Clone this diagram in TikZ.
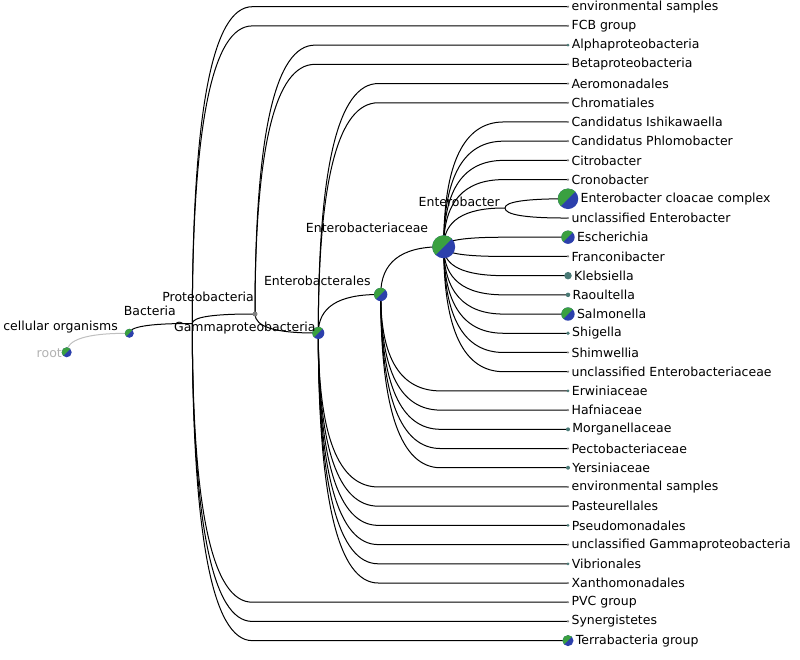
\documentclass[tikz,border=0pt]{standalone}
\usepackage{fontspec}
\setmainfont{DejaVu Sans}
\usetikzlibrary{calc, backgrounds}

\definecolor{piegreen}{RGB}{58,160,64}
\definecolor{pieblue}{RGB}{44,64,172}
\definecolor{smalldot}{RGB}{74,122,118}
\definecolor{tipgray}{RGB}{130,130,130}

\tikzstyle{pie} = [
    circle,
    inner sep=0pt,
    fill=pieblue,
    path picture={\fill[piegreen] (path picture bounding box.north east)
        -- (path picture bounding box.south west)
        -- (path picture bounding box.north west) -- cycle;}
]
\tikzstyle{dot} = [circle, inner sep=0pt, fill=smalldot]
\tikzstyle{tip} = [circle, inner sep=0pt, minimum size=2.4pt, fill=tipgray]
\tikzstyle{hidden} = [circle, inner sep=0pt, minimum size=0pt]
\tikzstyle{leaftext} = [inner sep=0pt, label distance=2pt, text=black]
\tikzstyle{innertext} = [inner sep=0pt, anchor=base east, text=black]
\tikzstyle{branch} = [
    line width=1pt,
    to path={let \p1=(\tikztostart), \p2=(\tikztotarget) in
        (\tikztostart.center)
        .. controls (\x1,{\y1+2/3*(\y2-\y1)}) and ({\x1+20pt},\y2)
        .. ({\x1+60pt},\y2) -- (\tikztotarget.center)}
]

\begin{document}
\begin{tikzpicture}[x=1pt, y=-1pt, node distance=19.21pt,
    font=\fontsize{12.5}{15}\selectfont]

\useasboundingbox (0,0) rectangle (800,659);

% inner nodes
\node (root) [pie, minimum size=10pt] at (66.7,352.3) {};
\node (cellorg) [pie, minimum size=9pt] at (129.3,333.3) {};
\node (bact) [hidden] at (192.3,323.5) {};
\node (proteo) [circle, inner sep=0pt, minimum size=5pt, fill=gray] at (255,314) {};
\node (gamma) [pie, minimum size=12pt] at (318.3,333) {};
\node (entbales) [pie, minimum size=13.3pt] at (380.7,294.5) {};
\node (entceae) [pie, minimum size=23pt] at (443.7,246.8) {};
\node (entbacter) [hidden] at (505,208) {};

\node (rootlbl) [innertext, text=black!30] at ([shift={(-4.7,4.7)}]root.center) {root};
\node (cellorglbl) [innertext] at ([shift={(-11.3,-3.3)}]cellorg.center) {cellular organisms};
\node (bactlbl) [innertext] at ([shift={(-16.3,-8)}]bact.center) {Bacteria};
\node (proteolbl) [innertext] at ([shift={(-1,-12.3)}]proteo.center) {Proteobacteria};
\node (gammalbl) [innertext] at ([shift={(-2.6,-1.1)}]gamma.center) {Gammaproteobacteria};
\node (entbaleslbl) [innertext] at ([shift={(-10,-9)}]entbales.center) {Enterobacterales};
\node (entceaelbl) [innertext] at ([shift={(-15.4,-14.4)}]entceae.center) {Enterobacteriaceae};
\node (entbacterlbl) [innertext] at ([shift={(-5,-2)}]entbacter.center) {Enterobacter};

% leaves
\node (envbact) [tip, label={[leaftext]right:environmental samples}] at (568,6.7) {};
\node (fcb) [tip, below of=envbact, label={[leaftext]right:FCB group}] {};
\node (alpha) [dot, minimum size=3pt, below of=fcb, label={[leaftext]right:Alphaproteobacteria}] {};
\node (beta) [tip, below of=alpha, label={[leaftext]right:Betaproteobacteria}] {};
\node (aeromon) [tip, below of=beta, label={[leaftext]right:Aeromonadales}] {};
\node (chromat) [tip, below of=aeromon, label={[leaftext]right:Chromatiales}] {};
\node (ishik) [tip, below of=chromat, label={[leaftext]right:Candidatus Ishikawaella}] {};
\node (phlomo) [tip, below of=ishik, label={[leaftext]right:Candidatus Phlomobacter}] {};
\node (citro) [tip, below of=phlomo, label={[leaftext]right:Citrobacter}] {};
\node (crono) [tip, below of=citro, label={[leaftext]right:Cronobacter}] {};
\node (cloacae) [pie, minimum size=20.5pt, below of=crono, label={[leaftext]right:Enterobacter cloacae complex}] {};
\node (unclentb) [tip, below of=cloacae, label={[leaftext]right:unclassified Enterobacter}] {};
\node (escher) [pie, minimum size=13.3pt, below of=unclentb, label={[leaftext]right:Escherichia}] {};
\node (francon) [tip, below of=escher, label={[leaftext]right:Franconibacter}] {};
\node (klebs) [dot, minimum size=7.5pt, below of=francon, label={[leaftext]right:Klebsiella}] {};
\node (raoult) [dot, minimum size=4.5pt, below of=klebs, label={[leaftext]right:Raoultella}] {};
\node (salmon) [pie, minimum size=13.3pt, below of=raoult, label={[leaftext]right:Salmonella}] {};
\node (shig) [dot, minimum size=3.6pt, below of=salmon, label={[leaftext]right:Shigella}] {};
\node (shimw) [tip, below of=shig, label={[leaftext]right:Shimwellia}] {};
\node (unclentc) [tip, below of=shimw, label={[leaftext]right:unclassified Enterobacteriaceae}] {};
\node (erwin) [dot, minimum size=3pt, below of=unclentc, label={[leaftext]right:Erwiniaceae}] {};
\node (hafn) [tip, below of=erwin, label={[leaftext]right:Hafniaceae}] {};
\node (morgan) [dot, minimum size=4pt, below of=hafn, label={[leaftext]right:Morganellaceae}] {};
\node (pecto) [tip, below of=morgan, label={[leaftext]right:Pectobacteriaceae}] {};
\node (yersin) [dot, minimum size=4pt, below of=pecto, label={[leaftext]right:Yersiniaceae}] {};
\node (envgamma) [tip, below of=yersin, label={[leaftext]right:environmental samples}] {};
\node (pasteur) [tip, below of=envgamma, label={[leaftext]right:Pasteurellales}] {};
\node (pseudo) [dot, minimum size=3pt, below of=pasteur, label={[leaftext]right:Pseudomonadales}] {};
\node (unclgamma) [tip, below of=pseudo, label={[leaftext]right:unclassified Gammaproteobacteria}] {};
\node (vibrio) [dot, minimum size=3pt, below of=unclgamma, label={[leaftext]right:Vibrionales}] {};
\node (xantho) [tip, below of=vibrio, label={[leaftext]right:Xanthomonadales}] {};
\node (pvc) [tip, below of=xantho, label={[leaftext]right:PVC group}] {};
\node (synerg) [tip, below of=pvc, label={[leaftext]right:Synergistetes}] {};
\node (terra) [pie, minimum size=11pt, below of=synerg, label={[leaftext]right:Terrabacteria group}] {};

% branches
\begin{pgfonlayer}{background}
\draw [branch, black!25] (root) to (cellorg);
\draw [branch] (cellorg) to (bact);

\draw [branch] (bact) to (envbact);
\draw [branch] (bact) to (fcb);
\draw [branch] (bact) to (proteo);
\draw [branch] (bact) to (pvc);
\draw [branch] (bact) to (synerg);
\draw [branch] (bact) to (terra);

\draw [branch] (proteo) to (alpha);
\draw [branch] (proteo) to (beta);
\draw [branch] (proteo) to (gamma);

\draw [branch] (gamma) to (aeromon);
\draw [branch] (gamma) to (chromat);
\draw [branch] (gamma) to (entbales);
\draw [branch] (gamma) to (envgamma);
\draw [branch] (gamma) to (pasteur);
\draw [branch] (gamma) to (pseudo);
\draw [branch] (gamma) to (unclgamma);
\draw [branch] (gamma) to (vibrio);
\draw [branch] (gamma) to (xantho);

\draw [branch] (entbales) to (entceae);
\draw [branch] (entbales) to (erwin);
\draw [branch] (entbales) to (hafn);
\draw [branch] (entbales) to (morgan);
\draw [branch] (entbales) to (pecto);
\draw [branch] (entbales) to (yersin);

\draw [branch] (entceae) to (ishik);
\draw [branch] (entceae) to (phlomo);
\draw [branch] (entceae) to (citro);
\draw [branch] (entceae) to (crono);
\draw [branch] (entceae) to (entbacter);
\draw [branch] (entceae) to (escher);
\draw [branch] (entceae) to (francon);
\draw [branch] (entceae) to (klebs);
\draw [branch] (entceae) to (raoult);
\draw [branch] (entceae) to (salmon);
\draw [branch] (entceae) to (shig);
\draw [branch] (entceae) to (shimw);
\draw [branch] (entceae) to (unclentc);

\draw [branch] (entbacter) to (cloacae);
\draw [branch] (entbacter) to (unclentb);
\end{pgfonlayer}

\end{tikzpicture}
\end{document}
